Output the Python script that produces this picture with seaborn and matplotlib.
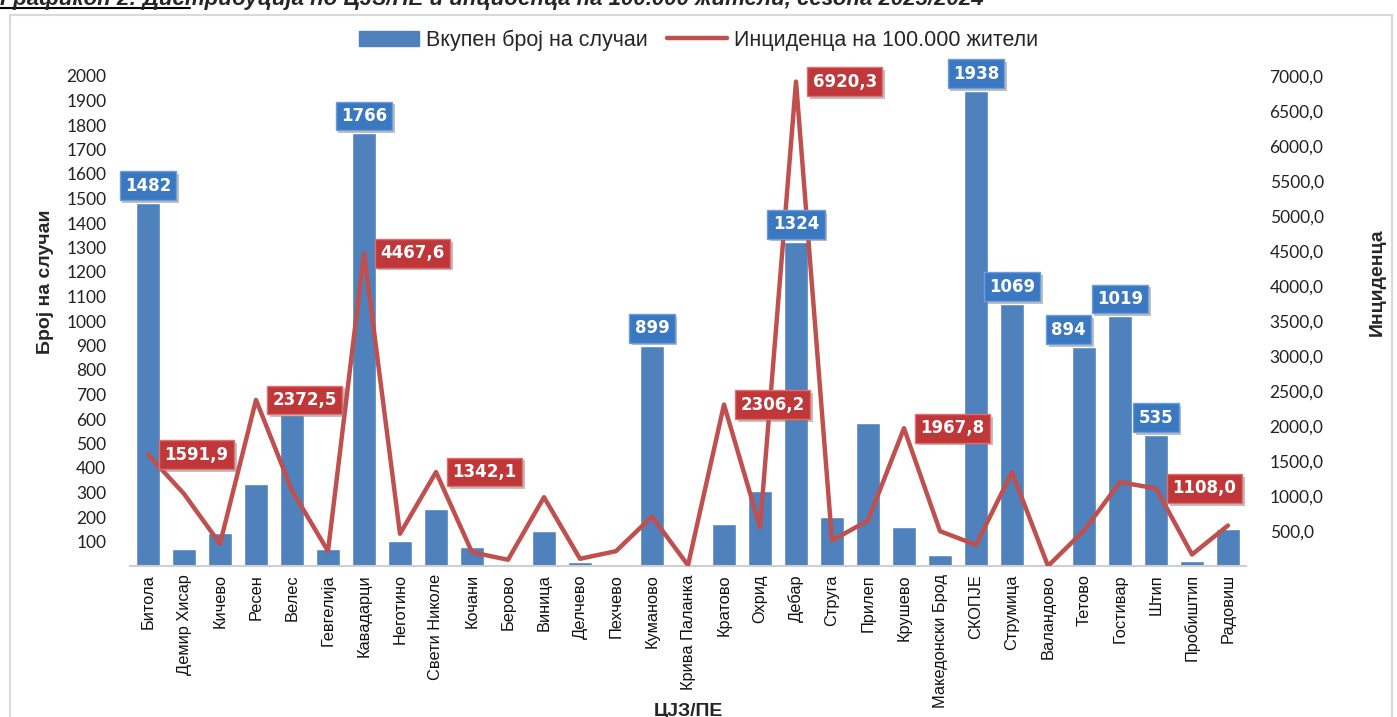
import numpy as np
import pandas as pd
import seaborn as sns
import matplotlib.pyplot as plt
import matplotlib.patheffects as pe
from matplotlib.patches import Rectangle, Patch
from matplotlib.lines import Line2D

# ЦЈЗ/ПЕ
centres = ['Битола', 'Демир Хисар', 'Кичево', 'Ресен', 'Велес', 'Гевгелија',
           'Кавадарци', 'Неготино', 'Свети Николе', 'Кочани', 'Берово', 'Виница',
           'Делчево', 'Пехчево', 'Куманово', 'Крива Паланка', 'Кратово', 'Охрид',
           'Дебар', 'Струга', 'Прилеп', 'Крушево', 'Македонски Брод', 'СКОПЈЕ',
           'Струмица', 'Валандово', 'Тетово', 'Гостивар', 'Штип', 'Пробиштип',
           'Радовиш']
cases = [1482, 70, 136, 336, 615, 70, 1766, 103, 232, 78, 10, 142, 17, 7,
         899, 3, 171, 307, 1324, 200, 584, 161, 46, 1938, 1069, 0, 894, 1019,
         535, 20, 153]
incidence = [1591.9, 1031, 317, 2372.5, 1079, 212, 4467.6, 460, 1342.1, 197,
             89, 983, 103, 212, 707, 10, 2306.2, 555, 6920.3, 364, 650, 1967.8,
             498, 302, 1340, 0, 507, 1198, 1108.0, 164, 579]

labelled_cases = ['Битола', 'Кавадарци', 'Куманово', 'Дебар', 'СКОПЈЕ',
                  'Струмица', 'Тетово', 'Гостивар', 'Штип']
labelled_incidence = ['Битола', 'Ресен', 'Кавадарци', 'Свети Николе',
                      'Кратово', 'Дебар', 'Крушево', 'Штип']

bar_name = 'Вкупен број на случаи'
line_name = 'Инциденца на 100.000 жители'
title = 'Графикон 2: Дистрибуција по ЦЈЗ/ПЕ и инциденца на 100.000 жители, сезона 2023/2024'

df = pd.DataFrame({'ЦЈЗ': centres, 'cases': cases, 'incidence': incidence})
df['pos'] = np.arange(len(df))

BLUE = '#4f81bd'
RED = '#c0504d'
SANS = ['Liberation Sans', 'DejaVu Sans']
NUMS = ['Lato', 'DejaVu Sans']

sns.set_theme(style='white')
plt.rcParams['font.family'] = SANS

fig = plt.figure(figsize=(13.97, 7.17), dpi=100)
ax = fig.add_axes([130 / 1397, 1 - 566 / 717, 1116 / 1397, 490 / 717])

sns.barplot(data=df, x='ЦЈЗ', y='cases', color=BLUE, width=0.64,
            saturation=1, ax=ax, zorder=2)
ax2 = ax.twinx()
sns.lineplot(data=df, x='pos', y='incidence', color=RED, linewidth=3.2,
             ax=ax2, zorder=3)

ax.set_xlim(-0.5, len(df) - 0.5)
ax.set_ylim(0, 2000)
ax2.set_ylim(0, 7000)
ax.set_yticks(np.arange(100, 2001, 100))
ax2.set_yticks(np.arange(500, 7001, 500))
ax2.set_yticklabels([f'{v},0' for v in range(500, 7001, 500)])

for a in (ax, ax2):
    for s in a.spines.values():
        s.set_visible(False)
    a.tick_params(length=0)
ax.spines['bottom'].set_visible(True)
ax.spines['bottom'].set_color('#d0d0d0')
ax.spines['bottom'].set_linewidth(1.5)

ax.tick_params(axis='x', labelrotation=90, labelsize=11.8, pad=6,
               labelcolor='#111111')
ax.tick_params(axis='y', labelsize=12.5, pad=17, labelcolor='#222222')
ax2.tick_params(axis='y', labelsize=12.5, pad=17, labelcolor='#222222')
for t in ax.get_yticklabels() + ax2.get_yticklabels():
    t.set_family(NUMS)

ax.set_xlabel('ЦЈЗ/ПЕ', fontsize=14, fontweight='bold')
ax.set_ylabel('Број на случаи', fontsize=14, fontweight='bold')
ax2.set_ylabel('Инциденца', fontsize=14, fontweight='bold', rotation=90)
ax.xaxis.set_label_coords(0.5, -0.28)
ax.yaxis.set_label_coords(-0.068, 0.58)
ax2.yaxis.set_label_coords(1.11, 0.58)

ax.set_zorder(ax2.get_zorder() - 1)
ax2.patch.set_visible(False)
ax.patch.set_visible(False)

shadow = [pe.withSimplePatchShadow(offset=(2, -2), shadow_rgbFace='#777777',
                                   alpha=0.45)]
shift = {'Тетово': -11}

for _, r in df[df['ЦЈЗ'].isin(labelled_cases)].iterrows():
    t = ax2.annotate(f"{r['cases']}", xy=(r['pos'], r['cases'] * 3.5),
                     xytext=(shift.get(r['ЦЈЗ'], 0), 12.5),
                     textcoords='offset points', ha='center', va='center',
                     color='white', fontsize=12, fontweight='bold',
                     family='DejaVu Sans', zorder=6,
                     bbox=dict(boxstyle='square,pad=0.32', fc='#3b78c2',
                               ec='#6d9ddb', lw=1))
    t.get_bbox_patch().set_path_effects(shadow)

for _, r in df[df['ЦЈЗ'].isin(labelled_incidence)].iterrows():
    txt = f"{r['incidence']:.1f}".replace('.', ',')
    t = ax2.annotate(txt, xy=(r['pos'], r['incidence']),
                     xytext=(12, 0), textcoords='offset points',
                     ha='left', va='center', color='white', fontsize=12,
                     fontweight='bold', family='DejaVu Sans', zorder=6,
                     bbox=dict(boxstyle='square,pad=0.32', fc='#c0373a',
                               ec='#e07070', lw=1))
    t.get_bbox_patch().set_path_effects(shadow)

handles = [Patch(facecolor=BLUE, edgecolor=BLUE),
           Line2D([0], [0], color=RED, lw=3.2)]
fig.legend(handles, [bar_name, line_name], loc='center',
           bbox_to_anchor=(0.5, 1 - 40 / 717), ncol=2, frameon=False,
           fontsize=15.5, handlelength=2.8, handletextpad=0.3,
           columnspacing=0.9)

fig.patches.append(Rectangle((10 / 1397, -0.05), 1382 / 1397, 1.05 - 15 / 717,
                             transform=fig.transFigure, fill=False,
                             ec='#d9d9d9', lw=1.5))
fig.text(0.0, 1 - 5 / 717, title, fontsize=16, fontweight='bold',
         fontstyle='italic', va='baseline', ha='left')
fig.lines.append(Line2D([0, 190 / 1397], [1 - 8 / 717, 1 - 8 / 717],
                        transform=fig.transFigure, color='black', lw=1.5))

fig.savefig('out.png', dpi=100)
